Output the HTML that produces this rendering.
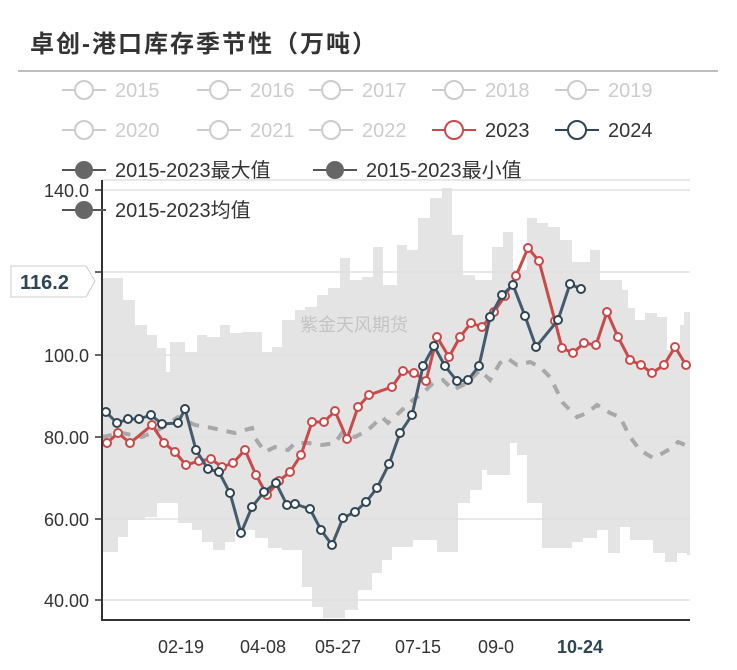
<!DOCTYPE html>
<html><head><meta charset="utf-8"><style>
body{margin:0;background:#fff}
svg text{font-family:"Liberation Sans","Noto Sans CJK SC",sans-serif}
</style></head><body>
<svg width="737" height="665" xmlns="http://www.w3.org/2000/svg">
<rect width="737" height="665" fill="#fff"/>
<text x="30" y="52" font-size="24" font-weight="bold" fill="#333" letter-spacing="2">卓创-港口库存季节性（万吨）</text>
<line x1="18" y1="71" x2="718" y2="71" stroke="#aaa" stroke-width="1.5"/>
<!-- band -->
<path fill="#e4e4e4" d="M102,278 H123 V300 H135 V325 H147 V335 H157 V348 H166 V372 H170 V342 H185 V352 H197 V335 H207 V337 H220 V325 H230 V333 H242 V332 H262 V352 H272 V347 H282 V320 H295 V310 H305 V307 H317 V295 H328 V288 H340 V258 H350 V280 H362 V277 H373 V247 H383 V285 H397 V245 H407 V250 H418 V218 H430 V198 H442 V188 H452 V235 H463 V275 H475 V280 H492 V247 H503 V232 H513 V270 H527 V218 H537 V223 H548 V227 H560 V240 H572 V262 H590 V250 H600 V280 H622 V290 H628 V308 H635 V320 H645 V313 H657 V317 H667 V350 H680 V325 H684 V312 H690 V555 H687 V553 H677 V562 H665 V553 H653 V540 H630 V527 H620 V553 H608 V530 H597 V538 H583 V542 H572 V548 H542 V503 H527 V455 H517 V443 H510 V475 H487 V470 H482 V490 H470 V503 H458 V552 H437 V540 H413 V547 H392 V560 H382 V573 H372 V590 H358 V610 H345 V618 H323 V607 H312 V587 H302 V550 H282 V548 H268 V538 H255 V530 H235 V542 H225 V550 H213 V542 H202 V530 H192 V523 H178 V503 H157 V517 H145 V520 H128 V537 H118 V552 H102 Z"/>
<g stroke="#e0e0e0" stroke-width="1.5">
<line x1="102" y1="190" x2="690" y2="190"/><line x1="102" y1="272" x2="690" y2="272"/>
<line x1="102" y1="355" x2="690" y2="355"/><line x1="102" y1="437" x2="690" y2="437"/>
<line x1="102" y1="519" x2="690" y2="519"/><line x1="102" y1="600" x2="690" y2="600"/>
<line x1="102" y1="180" x2="690" y2="180"/>
</g>
<text x="300" y="331" font-size="18" fill="#c4c4c4">紫金天风期货</text>
<!-- avg -->
<polyline fill="none" stroke="#a8a8a8" stroke-width="4" stroke-dasharray="10,9" points="102,437 122,433 142,437 162,428 178,417 195,425 212,428 235,433 252,428 255,438 265,452 275,447 288,450 295,443 308,443 322,445 335,443 342,433 355,437 368,430 382,417 388,423 402,410 413,400 423,393 433,383 443,380 453,390 467,383 480,370 490,380 500,363 507,358 517,365 530,362 540,367 550,377 563,403 577,417 587,413 597,405 610,413 620,417 630,437 640,450 653,458 663,453 673,447 678,442 690,447"/>
<!-- 2023 -->
<g fill="none" stroke="#c94a4a" stroke-width="3">
<polyline points="107,443 118,433 130,443 152,425 164,443 175,452 186,465 199,461 211,459 222,467 233,463 245,450 256,475 267,495 279,481 290,472 301,455 312,422 324,422 335,411 347,439 358,407 369,395 392,387 403,371 414,373 426,381 437,337 449,357 460,337 471,323 482,327 494,312 505,296 516,276 528,248 539,261 555,321 562,348 573,353 584,343 596,345 607,312 618,337 630,360 641,365 652,373 664,365 675,347 686,365"/>
</g>
<g fill="#fff" stroke="#c94a4a" stroke-width="2">
<circle cx="107" cy="443" r="4"/><circle cx="118" cy="433" r="4"/><circle cx="130" cy="443" r="4"/><circle cx="152" cy="425" r="4"/><circle cx="164" cy="443" r="4"/><circle cx="175" cy="452" r="4"/><circle cx="186" cy="465" r="4"/><circle cx="199" cy="461" r="4"/><circle cx="211" cy="459" r="4"/><circle cx="222" cy="467" r="4"/><circle cx="233" cy="463" r="4"/><circle cx="245" cy="450" r="4"/><circle cx="256" cy="475" r="4"/><circle cx="267" cy="495" r="4"/><circle cx="279" cy="481" r="4"/><circle cx="290" cy="472" r="4"/><circle cx="301" cy="455" r="4"/><circle cx="312" cy="422" r="4"/><circle cx="324" cy="422" r="4"/><circle cx="335" cy="411" r="4"/><circle cx="347" cy="439" r="4"/><circle cx="358" cy="407" r="4"/><circle cx="369" cy="395" r="4"/><circle cx="392" cy="387" r="4"/><circle cx="403" cy="371" r="4"/><circle cx="414" cy="373" r="4"/><circle cx="426" cy="381" r="4"/><circle cx="437" cy="337" r="4"/><circle cx="449" cy="357" r="4"/><circle cx="460" cy="337" r="4"/><circle cx="471" cy="323" r="4"/><circle cx="482" cy="327" r="4"/><circle cx="494" cy="312" r="4"/><circle cx="505" cy="296" r="4"/><circle cx="516" cy="276" r="4"/><circle cx="528" cy="248" r="4"/><circle cx="539" cy="261" r="4"/><circle cx="555" cy="321" r="4"/><circle cx="562" cy="348" r="4"/><circle cx="573" cy="353" r="4"/><circle cx="584" cy="343" r="4"/><circle cx="596" cy="345" r="4"/><circle cx="607" cy="312" r="4"/><circle cx="618" cy="337" r="4"/><circle cx="630" cy="360" r="4"/><circle cx="641" cy="365" r="4"/><circle cx="652" cy="373" r="4"/><circle cx="664" cy="365" r="4"/><circle cx="675" cy="347" r="4"/><circle cx="686" cy="365" r="4"/>
</g>
<!-- 2024 -->
<polyline fill="none" stroke="#455a6b" stroke-width="3" points="106,412 117,423 128,419 139,419 151,415 162,424 178,423 185,409 196,450 208,469 219,472 230,493 241,533 252,507 264,492 276,483 287,505 295,504 310,509 321,530 332,545 343,518 355,512 366,502 377,488 389,464 400,433 412,415 423,366 434,346 445,366 457,381 468,380 479,366 490,317 502,295 513,285 525,316 536,347 558,320 570,284 581,289"/>
<g fill="#fff" stroke="#2f4554" stroke-width="2">
<circle cx="106" cy="412" r="4"/><circle cx="117" cy="423" r="4"/><circle cx="128" cy="419" r="4"/><circle cx="139" cy="419" r="4"/><circle cx="151" cy="415" r="4"/><circle cx="162" cy="424" r="4"/><circle cx="178" cy="423" r="4"/><circle cx="185" cy="409" r="4"/><circle cx="196" cy="450" r="4"/><circle cx="208" cy="469" r="4"/><circle cx="219" cy="472" r="4"/><circle cx="230" cy="493" r="4"/><circle cx="241" cy="533" r="4"/><circle cx="252" cy="507" r="4"/><circle cx="264" cy="492" r="4"/><circle cx="276" cy="483" r="4"/><circle cx="287" cy="505" r="4"/><circle cx="295" cy="504" r="4"/><circle cx="310" cy="509" r="4"/><circle cx="321" cy="530" r="4"/><circle cx="332" cy="545" r="4"/><circle cx="343" cy="518" r="4"/><circle cx="355" cy="512" r="4"/><circle cx="366" cy="502" r="4"/><circle cx="377" cy="488" r="4"/><circle cx="389" cy="464" r="4"/><circle cx="400" cy="433" r="4"/><circle cx="412" cy="415" r="4"/><circle cx="423" cy="366" r="4"/><circle cx="434" cy="346" r="4"/><circle cx="445" cy="366" r="4"/><circle cx="457" cy="381" r="4"/><circle cx="468" cy="380" r="4"/><circle cx="479" cy="366" r="4"/><circle cx="490" cy="317" r="4"/><circle cx="502" cy="295" r="4"/><circle cx="513" cy="285" r="4"/><circle cx="525" cy="316" r="4"/><circle cx="536" cy="347" r="4"/><circle cx="558" cy="320" r="4"/><circle cx="570" cy="284" r="4"/><circle cx="581" cy="289" r="4"/>
</g>
<!-- axes -->
<line x1="102" y1="180" x2="102" y2="621" stroke="#333" stroke-width="2"/>
<line x1="101" y1="620" x2="690" y2="620" stroke="#333" stroke-width="2"/>
<g stroke="#333" stroke-width="1.5">
<line x1="95" y1="190" x2="102" y2="190"/><line x1="95" y1="272" x2="102" y2="272"/><line x1="95" y1="355" x2="102" y2="355"/><line x1="95" y1="437" x2="102" y2="437"/><line x1="95" y1="519" x2="102" y2="519"/><line x1="95" y1="600" x2="102" y2="600"/>
</g>
<g font-size="18" fill="#333" text-anchor="end">
<text x="89" y="197">140.0</text><text x="89" y="362">100.0</text><text x="89" y="444">80.00</text><text x="89" y="526">60.00</text><text x="89" y="607">40.00</text>
</g>
<path d="M11,266 H86 L95,281 L86,297 H11 Z" fill="#fff" stroke="#ccc"/>
<text x="20" y="289" font-size="20" font-weight="bold" fill="#2f4554">116.2</text>
<g font-size="18" fill="#333" text-anchor="middle">
<text x="181" y="653">02-19</text><text x="263" y="653">04-08</text><text x="338" y="653">05-27</text><text x="418" y="653">07-15</text><text x="496" y="653">09-0</text>
<text x="580" y="653" font-weight="bold" fill="#2f4554">10-24</text>
</g>
<!-- legend -->
<g font-size="20" fill="#ccc" stroke-width="2">
<g stroke="#ccc" fill="#fff">
<line x1="62" y1="90" x2="106" y2="90"/><circle cx="84" cy="90" r="9"/>
<line x1="197" y1="90" x2="241" y2="90"/><circle cx="219" cy="90" r="9"/>
<line x1="309" y1="90" x2="353" y2="90"/><circle cx="331" cy="90" r="9"/>
<line x1="432" y1="90" x2="476" y2="90"/><circle cx="454" cy="90" r="9"/>
<line x1="555" y1="90" x2="599" y2="90"/><circle cx="577" cy="90" r="9"/>
<line x1="62" y1="130" x2="106" y2="130"/><circle cx="84" cy="130" r="9"/>
<line x1="197" y1="130" x2="241" y2="130"/><circle cx="219" cy="130" r="9"/>
<line x1="309" y1="130" x2="353" y2="130"/><circle cx="331" cy="130" r="9"/>
</g>
<text x="115" y="97">2015</text><text x="250" y="97">2016</text><text x="362" y="97">2017</text><text x="485" y="97">2018</text><text x="608" y="97">2019</text>
<text x="115" y="137">2020</text><text x="250" y="137">2021</text><text x="362" y="137">2022</text>
<line x1="432" y1="130" x2="476" y2="130" stroke="#c94a4a"/><circle cx="454" cy="130" r="9" fill="#fff" stroke="#c94a4a"/>
<text x="485" y="137" fill="#333">2023</text>
<line x1="555" y1="130" x2="599" y2="130" stroke="#2f4554"/><circle cx="577" cy="130" r="9" fill="#fff" stroke="#2f4554"/>
<text x="608" y="137" fill="#333">2024</text>
<line x1="62" y1="170" x2="106" y2="170" stroke="#555"/><circle cx="84" cy="170" r="9" fill="#666"/>
<text x="115" y="177" fill="#333">2015-2023最大值</text>
<line x1="313" y1="170" x2="357" y2="170" stroke="#555"/><circle cx="335" cy="170" r="9" fill="#666"/>
<text x="366" y="177" fill="#333">2015-2023最小值</text>
<line x1="62" y1="210" x2="106" y2="210" stroke="#555"/><circle cx="84" cy="210" r="9" fill="#666"/>
<text x="115" y="217" fill="#333">2015-2023均值</text>
</g>
</svg>
</body></html>
